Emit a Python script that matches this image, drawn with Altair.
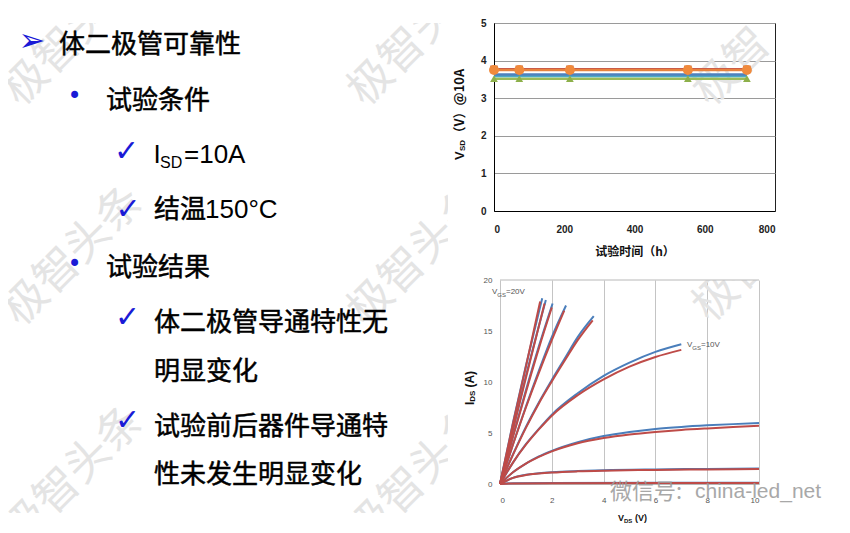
import altair as alt
import pandas as pd

CJK = "Noto Sans CJK SC"
LAT = "Liberation Sans"
SYM = "DejaVu Sans"
BLUE_MARK = "#1a1ad6"
WM_COLOR = "#e4e4e4"

# ---------------- left-hand slide text ----------------
arrow_bullet = "➢"
dot_bullet = "•"
check_bullet = "✓"
heading = "体二极管可靠性"
item_conditions = "试验条件"
cond_isd_main = "I"
cond_isd_sub = "SD"
cond_isd_value = "=10A"
cond_temp_cjk = "结温"
cond_temp_value = "150°C"
item_results = "试验结果"
result_1_line1 = "体二极管导通特性无"
result_1_line2 = "明显变化"
result_2_line1 = "试验前后器件导通特"
result_2_line2 = "性未发生明显变化"
watermark = "极智头条"
watermark_short = "极智"

# ---------------- top chart: VSD vs test time ----------------
test_hours = [0, 72, 216, 552, 720]
vsd_brown = [3.77, 3.77, 3.77, 3.77, 3.77]
vsd_orange = [3.75, 3.75, 3.75, 3.75, 3.75]
vsd_blue = [3.63, 3.63, 3.63, 3.63, 3.63]
vsd_teal = [3.59, 3.59, 3.59, 3.59, 3.59]
vsd_green = [3.52, 3.52, 3.52, 3.52, 3.52]
top_x_ticks = [0, 200, 400, 600, 800]
top_y_ticks = [0, 1, 2, 3, 4, 5]
top_x_title = "试验时间（h）"
top_y_title_v = "V"
top_y_title_sub = "SD"
top_y_title_rest = "（V）@10A"

# ---------------- bottom chart: IDS vs VDS (before = blue, after = red) ----------------
before_1 = [(0, 0), (0.5, 6.0), (1.0, 11.6), (1.63, 18.2)]
before_2 = [(0, 0), (0.5, 5.4), (1.0, 10.6), (1.77, 18.05)]
before_3 = [(0, 0), (0.5, 4.7), (1.0, 9.2), (1.5, 13.5), (2.03, 17.7)]
before_4 = [(0, 0), (0.5, 3.9), (1.0, 7.6), (1.5, 11.1), (2.0, 14.4), (2.55, 17.5)]
before_5 = [(0, 0), (0.5, 2.9), (1.0, 5.6), (1.5, 8.0), (2.0, 10.2), (2.5, 12.3), (3.0, 14.4), (3.62, 16.45)]
before_6 = [(0, 0), (0.5, 2.1), (1.0, 3.9), (1.5, 5.4), (2.0, 6.8), (3.0, 8.9), (4.0, 10.6), (5.0, 11.9), (6.0, 12.95), (7.0, 13.7)]
before_7 = [(0, 0), (0.5, 1.15), (1.0, 2.0), (1.5, 2.7), (2.0, 3.25), (3.0, 4.1), (4.0, 4.7), (5.0, 5.1), (6.0, 5.4), (7.0, 5.6), (8.0, 5.75), (9.0, 5.87), (10.0, 5.98)]
before_8 = [(0, 0), (0.5, 0.6), (1.0, 0.9), (1.5, 1.05), (2.0, 1.15), (3.0, 1.27), (4.0, 1.35), (6.0, 1.43), (8.0, 1.48), (10.0, 1.53)]
before_9 = [(0, 0), (0.5, 0.08), (2.0, 0.1), (10.0, 0.12)]

after_1 = [(0, 0), (0.5, 5.9), (1.0, 11.5), (1.55, 17.9)]
after_2 = [(0, 0), (0.5, 5.3), (1.0, 10.4), (1.72, 17.7)]
after_3 = [(0, 0), (0.5, 4.6), (1.0, 9.0), (1.5, 13.3), (2.0, 17.3)]
after_4 = [(0, 0), (0.5, 3.85), (1.0, 7.5), (1.5, 10.9), (2.0, 14.1), (2.48, 17.0)]
after_5 = [(0, 0), (0.5, 2.85), (1.0, 5.5), (1.5, 7.9), (2.0, 10.05), (2.5, 12.1), (3.0, 14.1), (3.58, 16.05)]
after_6 = [(0, 0), (0.5, 2.1), (1.0, 3.85), (1.5, 5.35), (2.0, 6.7), (3.0, 8.7), (4.0, 10.25), (5.0, 11.5), (6.0, 12.45), (7.0, 13.15)]
after_7 = [(0, 0), (0.5, 1.15), (1.0, 2.0), (1.5, 2.65), (2.0, 3.2), (3.0, 4.0), (4.0, 4.5), (5.0, 4.85), (6.0, 5.1), (7.0, 5.3), (8.0, 5.45), (9.0, 5.58), (10.0, 5.7)]
after_8 = [(0, 0), (0.5, 0.6), (1.0, 0.88), (1.5, 1.02), (2.0, 1.12), (3.0, 1.24), (4.0, 1.31), (6.0, 1.38), (8.0, 1.43), (10.0, 1.46)]
after_9 = [(0, 0), (0.5, 0.06), (2.0, 0.08), (10.0, 0.1)]

bottom_x_ticks = [0, 2, 4, 6, 8, 10]
bottom_y_ticks = [0, 5, 10, 15, 20]
bottom_x_domain = [0, 10]
bottom_y_top = [20]
vgs_v = "V"
vgs_sub = "GS"
vgs_high = "=20V"
vgs_low = "=10V"
ids_main = "I"
ids_sub = "DS"
ids_rest = "(A)"
vds_main = "V"
vds_sub = "DS"
vds_rest = "(V)"
wechat_cjk = "微信号:"
wechat_id = "china-led_net"


def label(s, x, y, size, color="#000000", font=CJK, weight="normal",
          align="left", baseline="alphabetic", angle=None, opacity=None,
          clip=None, stroke=None, stroke_width=None):
    kw = dict(fontSize=size, color=color, font=font, fontWeight=weight,
              align=align, baseline=baseline)
    if angle is not None:
        kw["angle"] = angle
    if opacity is not None:
        kw["opacity"] = opacity
    if clip is not None:
        kw["clip"] = clip
    if stroke is not None:
        kw["stroke"] = stroke
        kw["strokeWidth"] = stroke_width
    return alt.Chart(pd.DataFrame({"t": [s]})).mark_text(**kw).encode(
        x=alt.value(x), y=alt.value(y), text="t:N")


def body(s, x, y):
    return label(s, x, y, 26, "#000000", CJK, stroke="#000000", stroke_width=0.5)


def wm(s, x, y):
    return label(s, x, y, 44, WM_COLOR, CJK, angle=315, baseline="middle", clip=True)


# ---------------- left text panel ----------------
text_layers = [
    wm(watermark, 3.4, 75.6),
    wm(watermark, 348.4, 75.6),
    wm(watermark, 3.4, 295.6),
    wm(watermark, 348.4, 295.6),
    wm(watermark, 3.4, 515.6),
    wm(watermark, 348.4, 515.6),
    label(arrow_bullet, 24, 18, 32, BLUE_MARK, SYM, align="center", baseline="middle"),
    body(heading, 51, 30),
    label(dot_bullet, 66.5, 74.3, 24, BLUE_MARK, SYM, align="center", baseline="middle"),
    body(item_conditions, 98, 86),
    label(check_bullet, 118.5, 128.5, 30, BLUE_MARK, SYM, align="center", baseline="middle"),
    label(cond_isd_main, 145.5, 139.7, 26, font=LAT),
    label(cond_isd_sub, 152, 144.7, 16, font=LAT),
    label(cond_isd_value, 176, 139.7, 26, font=LAT),
    label(check_bullet, 120, 186.5, 30, BLUE_MARK, SYM, align="center", baseline="middle"),
    body(cond_temp_cjk, 146, 194.7),
    label(cond_temp_value, 197, 194.7, 26, font=LAT),
    label(dot_bullet, 66.5, 242, 24, BLUE_MARK, SYM, align="center", baseline="middle"),
    body(item_results, 98, 252.6),
    label(check_bullet, 119.5, 294.5, 30, BLUE_MARK, SYM, align="center", baseline="middle"),
    body(result_1_line1, 146, 308.4),
    body(result_1_line2, 146, 356.8),
    label(check_bullet, 119.5, 398, 30, BLUE_MARK, SYM, align="center", baseline="middle"),
    body(result_2_line1, 146, 411.8),
    body(result_2_line2, 146, 460.1),
]
text_panel = alt.layer(*text_layers).properties(
    width=440, height=490, view=alt.ViewBackground(stroke=None))

# ---------------- top chart ----------------
xt = alt.X("h:Q", scale=alt.Scale(domain=[0, 800], nice=False),
           axis=alt.Axis(values=top_x_ticks, title=top_x_title, grid=False, ticks=False,
                         labelFont=LAT, labelFontSize=10, labelFontWeight="bold",
                         labelColor="#222222", labelPadding=13, domainColor="#000000",
                         titleFont=CJK, titleFontSize=12, titleFontWeight="bold",
                         titleColor="#111111", titlePadding=12))
yt = alt.Y("v:Q", scale=alt.Scale(domain=[0, 5], nice=False),
           axis=alt.Axis(values=top_y_ticks, title=None, grid=True, gridColor="#9a9a9a",
                         ticks=False, labelFont=LAT, labelFontSize=10,
                         labelFontWeight="bold", labelColor="#222222", labelPadding=8,
                         domainColor="#000000"))


def tseries(vals):
    return pd.DataFrame({"h": test_hours, "v": vals})


top_layers = [
    wm(watermark_short, 207.4, 75.6),
    alt.Chart(tseries(vsd_green)).mark_line(color="#9BBB59", strokeWidth=2.5).encode(x=xt, y=yt),
    alt.Chart(tseries(vsd_teal)).mark_line(color="#4BACC6", strokeWidth=2.5).encode(x=xt, y=yt),
    alt.Chart(tseries(vsd_blue)).mark_line(color="#4F81BD", strokeWidth=2.5).encode(x=xt, y=yt),
    alt.Chart(tseries(vsd_brown)).mark_line(color="#C0504D", strokeWidth=2.5).encode(x=xt, y=yt),
    alt.Chart(tseries(vsd_orange)).mark_line(color="#E8823E", strokeWidth=2.5).encode(x=xt, y=yt),
    alt.Chart(tseries(vsd_green)).mark_point(shape="triangle-up", filled=True, size=60,
                                             color="#8DB04A", opacity=1).encode(x=xt, y=yt),
    alt.Chart(tseries(vsd_brown)).mark_point(shape="square", filled=True, size=56,
                                             color="#C8663A", opacity=1).encode(x=xt, y=yt),
    alt.Chart(tseries(vsd_orange)).mark_point(shape="circle", filled=True, size=100,
                                              color="#F08A3C", opacity=1).encode(x=xt, y=yt),
    label(top_y_title_v, -34, 137, 13, "#111111", LAT, "bold", angle=270, baseline="middle"),
    label(top_y_title_sub, -31, 128, 8, "#111111", LAT, "bold", angle=270, baseline="middle"),
    label(top_y_title_rest, -34, 116.5, 13, "#111111", CJK, "bold", angle=270, baseline="middle"),
]
top_chart = alt.layer(*top_layers).properties(
    width=281, height=188, view=alt.ViewBackground(stroke="#222222", strokeWidth=1))

# ---------------- bottom chart ----------------
# the data rectangle starts 6 px right of the shared column edge
B0 = 6
xb = alt.X("vds:Q", scale=alt.Scale(domain=bottom_x_domain, range=[B0, B0 + 259], nice=False),
           axis=alt.Axis(values=bottom_x_ticks, title=None, grid=True, gridColor="#c4c4c4",
                         ticks=False, labelFont=LAT, labelFontSize=8, labelColor="#555555",
                         labelPadding=12, domainColor="#b8b8b8"))
yb = alt.Y("ids:Q", scale=alt.Scale(domain=[0, 20], nice=False),
           axis=alt.Axis(values=bottom_y_ticks, title=None, grid=False, ticks=False,
                         labelFont=LAT, labelFontSize=8, labelColor="#555555",
                         labelPadding=2, domain=False))


def curves(*cs):
    rows = []
    for i, c in enumerate(cs):
        for (vx, vy) in c:
            rows.append({"curve": i, "vds": vx, "ids": vy})
    return pd.DataFrame(rows)


before_df = curves(before_1, before_2, before_3, before_4, before_5,
                   before_6, before_7, before_8, before_9)
after_df = curves(after_1, after_2, after_3, after_4, after_5,
                  after_6, after_7, after_8, after_9)

top_border = alt.Chart(pd.DataFrame({"vds": [bottom_x_domain[0]], "vds2": [bottom_x_domain[1]],
                                     "ids": bottom_y_top})).mark_rule(
    color="#b8b8b8", strokeWidth=1).encode(x=xb, x2="vds2:Q", y=yb)

bottom_layers = [
    wm(watermark_short, 201.4 + B0, 34.6),
    top_border,
    alt.Chart(before_df).mark_line(color="#4A7EBB", strokeWidth=2, interpolate="monotone").encode(
        x=xb, y=yb, detail="curve:N"),
    alt.Chart(after_df).mark_line(color="#BE4B48", strokeWidth=2, interpolate="monotone").encode(
        x=xb, y=yb, detail="curve:N"),
    label(vgs_v, -8 + B0, 12, 8, "#555555", LAT, baseline="middle"),
    label(vgs_sub, -2.7 + B0, 14.5, 6, "#555555", LAT, baseline="middle"),
    label(vgs_high, 6 + B0, 12, 8, "#555555", LAT, baseline="middle"),
    label(vgs_v, 187 + B0, 65, 8, "#555555", LAT, baseline="middle"),
    label(vgs_sub, 192.3 + B0, 67.5, 6, "#555555", LAT, baseline="middle"),
    label(vgs_low, 201 + B0, 65, 8, "#555555", LAT, baseline="middle"),
    label(ids_main, -30 + B0, 125, 12, "#111111", LAT, "bold", angle=270, baseline="middle"),
    label(ids_sub, -27 + B0, 121.7, 8, "#111111", LAT, "bold", angle=270, baseline="middle"),
    label(ids_rest, -30 + B0, 107.6, 12, "#111111", LAT, "bold", angle=270, baseline="middle"),
    label(vds_main, 118 + B0, 238, 9, "#111111", LAT, "bold", baseline="middle"),
    label(vds_sub, 124 + B0, 240.5, 6, "#111111", LAT, "bold", baseline="middle"),
    label(vds_rest, 135 + B0, 238, 9, "#111111", LAT, "bold", baseline="middle"),
    label(wechat_cjk, 110 + B0, 212, 22, "#9a9a9a", CJK, baseline="middle", opacity=0.85),
    label(wechat_id, 195 + B0, 212, 21, "#9a9a9a", LAT, baseline="middle", opacity=0.85),
]
bottom_chart = alt.layer(*bottom_layers).properties(
    width=B0 + 259, height=204, view=alt.ViewBackground(stroke=None))

chart = alt.hconcat(
    text_panel,
    alt.vconcat(top_chart, bottom_chart, spacing=18),
    spacing=5,
).properties(
    padding={"left": 0, "top": 9, "right": 0, "bottom": 0},
    background="#ffffff",
).configure(font=LAT)

chart.save("out.html", embed_options={"renderer": "svg", "actions": False})
